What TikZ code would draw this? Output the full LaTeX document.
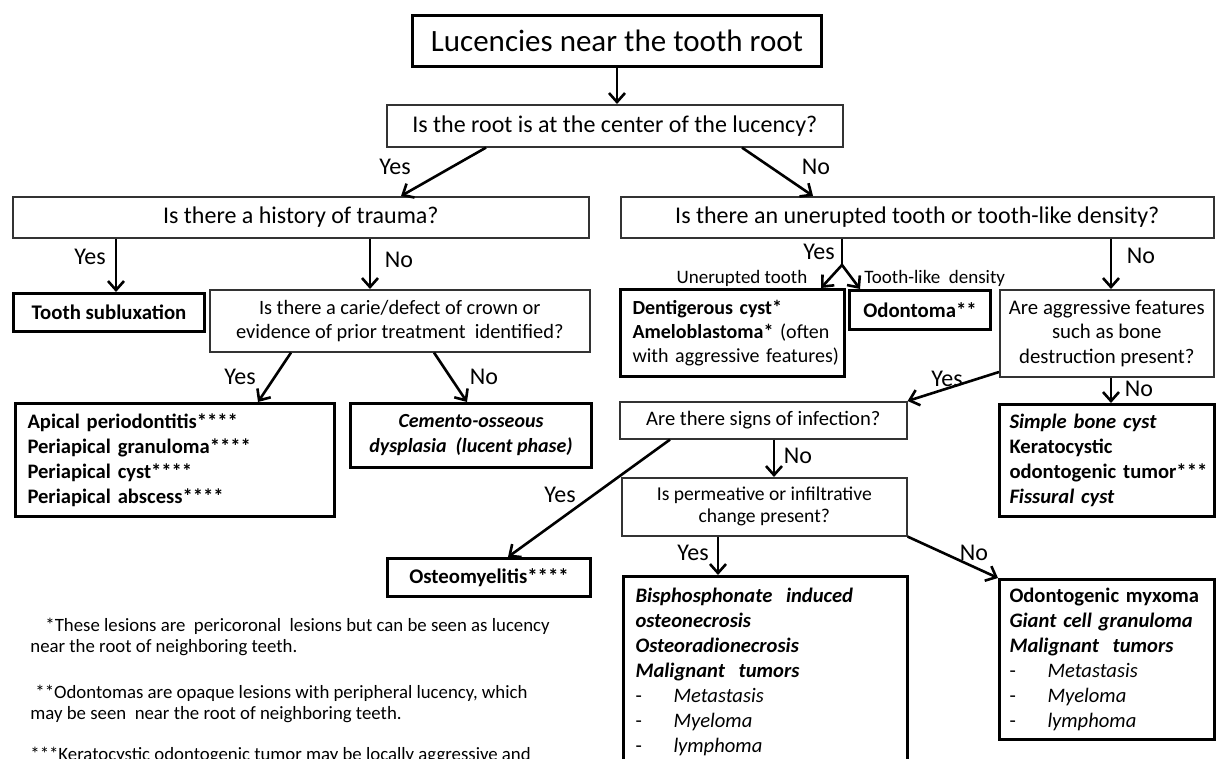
\documentclass[tikz,border=0pt]{standalone}
\usepackage{fontspec}
\setmainfont{Carlito}
\usetikzlibrary{arrows.meta}
\newcommand{\litem}[1]{{\mdseries\makebox[19pt][l]{-}\textit{#1}}}

\begin{document}
\begin{tikzpicture}[x=0.5pt,y=-0.5pt,
  qbox/.style={draw=black!80,line width=0.8pt,align=center,inner sep=0pt,anchor=north west,font=\fontsize{10.2}{12}\selectfont},
  tbox/.style={draw,line width=1.5pt,align=center,inner sep=0pt,anchor=north west,font=\fontsize{10.4}{12.5}\selectfont\bfseries},
  lbox/.style={draw,line width=1.5pt,align=left,inner sep=0pt,inner xsep=6pt,anchor=north west,font=\fontsize{10.3}{12.5}\selectfont\bfseries},
  arr/.style={-{Straight Barb[length=4.5pt,width=8pt]},line width=1.3pt},
  lbl/.style={font=\fontsize{12}{14}\selectfont,inner sep=0pt},
  slbl/.style={font=\fontsize{9.5}{11}\selectfont,inner sep=0pt},
  note/.style={font=\fontsize{9.4}{10.5}\selectfont,align=left,anchor=west,inner sep=0pt}]
\useasboundingbox[fill=white] (0,0) rectangle (1216,759);
\clip (0,0) rectangle (1216,759);

% questions
\node[tbox,font=\fontsize{15.5}{18}\selectfont,minimum width=204.5pt,minimum height=25.5pt] (title) at (411,14) {Lucencies near the tooth root};
\node[qbox,font=\fontsize{12}{14}\selectfont,minimum width=228pt,minimum height=21pt] (q1) at (386,104) {Is the root is at the center of the lucency?};
\node[qbox,font=\fontsize{12}{14}\selectfont,minimum width=288pt,minimum height=20.5pt] (q2) at (12,196) {Is there a history of trauma?};
\node[qbox,font=\fontsize{12}{14}\selectfont,minimum width=296.5pt,minimum height=20.5pt] (q3) at (620,196) {Is there an unerupted tooth or tooth-like density?};
\node[qbox,minimum width=190pt,minimum height=31pt] (q4) at (209,289) {Is there a carie/defect of crown or\\evidence of prior treatment~ identified?};
\node[qbox,font=\fontsize{10.4}{12.3}\selectfont,minimum width=107pt,minimum height=43.5pt] (q5) at (999,289) {Are aggressive features\\such as bone\\destruction present?};
\node[qbox,font=\fontsize{10.3}{12}\selectfont,minimum width=143.5pt,minimum height=18.5pt] (q6) at (619,401) {Are there signs of infection?};
\node[qbox,font=\fontsize{9.8}{11}\selectfont,minimum width=142.5pt,minimum height=29pt] (q7) at (621,477) {Is permeative or infiltrative\\change present?};

% results
\node[tbox,minimum width=95.5pt,minimum height=19pt] (sublux) at (12,292) {Tooth subluxation};
\node[lbox,text width=147.5pt,minimum height=56.5pt] (apical) at (14,402) {Apical periodontitis****\\Periapical granuloma****\\Periapical cyst****\\Periapical abscess****};
\node[tbox,font=\fontsize{10}{12.5}\selectfont\bfseries\itshape,minimum width=120.5pt,minimum height=32pt] (cemento) at (349,402) {Cemento-osseous\\dysplasia~ (lucent phase)};
\node[tbox,minimum width=101.5pt,minimum height=19pt] (osteo) at (386,557) {Osteomyelitis****};
\node[lbox,font=\fontsize{10}{11.8}\selectfont,text width=100pt,minimum height=43.5pt] (dentig) at (619,288) {\mbox{\textbf{Dentigerous cyst*}}\\\mbox{\textbf{Ameloblastoma*} (often}\\\mbox{with aggressive features)}};
\node[tbox,minimum width=70.5pt,minimum height=19.5pt] (odont) at (848,289) {Odontoma**};
\node[lbox,inner xsep=5pt,text width=97.5pt,minimum height=56pt] (simple) at (998,403) {\textit{Simple bone cyst}\\Keratocystic\\\mbox{odontogenic tumor***}\\\textit{Fissural cyst}};
\node[lbox,text width=130pt,minimum height=95pt] (bisph) at (622,575) {\mbox{\textit{Bisphosphonate~ induced}}\\\textit{osteonecrosis}\\\textit{Osteoradionecrosis}\\\mbox{\textit{Malignant~ tumors}}\\\litem{Metastasis}\\\litem{Myeloma}\\\litem{lymphoma}};
\node[lbox,inner xsep=5pt,text width=97.5pt,minimum height=80pt] (myxoma) at (998,578) {\mbox{Odontogenic myxoma}\\\mbox{\textit{Giant cell granuloma}}\\\mbox{\textit{Malignant~ tumors}}\\\litem{Metastasis}\\\litem{Myeloma}\\\litem{lymphoma}};

% arrows
\draw[arr] (title.south) -- (title.south |- q1.north);
\draw[arr] (486,0 |- q1.south) -- (401,0 |- q2.north) node[lbl] at (395,167) {Yes};
\draw[arr] (742,0 |- q1.south) -- (813,0 |- q3.north) node[lbl] at (816,167) {No};
\draw[arr] (116,0 |- q2.south) -- (116,0 |- sublux.north) node[lbl] at (90,257) {Yes};
\draw[arr] (370,0 |- q2.south) -- (370,0 |- q4.north) node[lbl] at (399,260) {No};
\draw[arr] (291,0 |- q4.south) -- (258,0 |- apical.north) node[lbl] at (240,377) {Yes};
\draw[arr] (434,0 |- q4.south) -- (467,0 |- cemento.north) node[lbl] at (484,377) {No};
\coordinate (fork) at (842,265);
\draw[line width=1.3pt] (fork |- q3.south) -- (fork) node[lbl] at (819,252) {Yes};
\draw[arr] (fork) -- (821,0 |- dentig.north) node[slbl] at (742,278) {Unerupted tooth};
\draw[arr] (fork) -- (860,0 |- odont.north) node[slbl,anchor=west] at (863,278) {Tooth-like~ density};
\draw[arr] (1111,0 |- q3.south) -- (1111,0 |- q5.north) node[lbl] at (1141,256) {No};
\draw[arr] (q5.west |- 0,372) -- (q6.north east) node[lbl] at (947,379) {Yes};
\draw[arr] (1111,0 |- q5.south) -- (1111,0 |- simple.north) node[lbl] at (1139,389) {No};
\draw[arr] (670,0 |- q6.south) -- (508,0 |- osteo.north) node[lbl] at (560,495) {Yes};
\draw[arr] (774,0 |- q6.south) -- (774,0 |- q7.north) node[lbl] at (798,456) {No};
\draw[arr] (718,0 |- q7.south) -- (718,0 |- bisph.north) node[lbl] at (693,553) {Yes};
\draw[arr] (q7.south east) -- (myxoma.north west) node[lbl] at (974,553) {No};

% footnotes
\node[note] (fn1) at (30,636.5) {\hspace*{7.5pt}*These lesions are~ pericoronal~ lesions but can be seen as lucency\\near the root of neighboring teeth.};
\node[note] (fn2) at (30,704) {\hspace*{2.5pt}**Odontomas are opaque lesions with peripheral lucency, which\\may be seen~ near the root of neighboring teeth.};
\node[note] (fn3) at (30,755) {***Keratocystic odontogenic tumor may be locally aggressive and};
\end{tikzpicture}
\end{document}
